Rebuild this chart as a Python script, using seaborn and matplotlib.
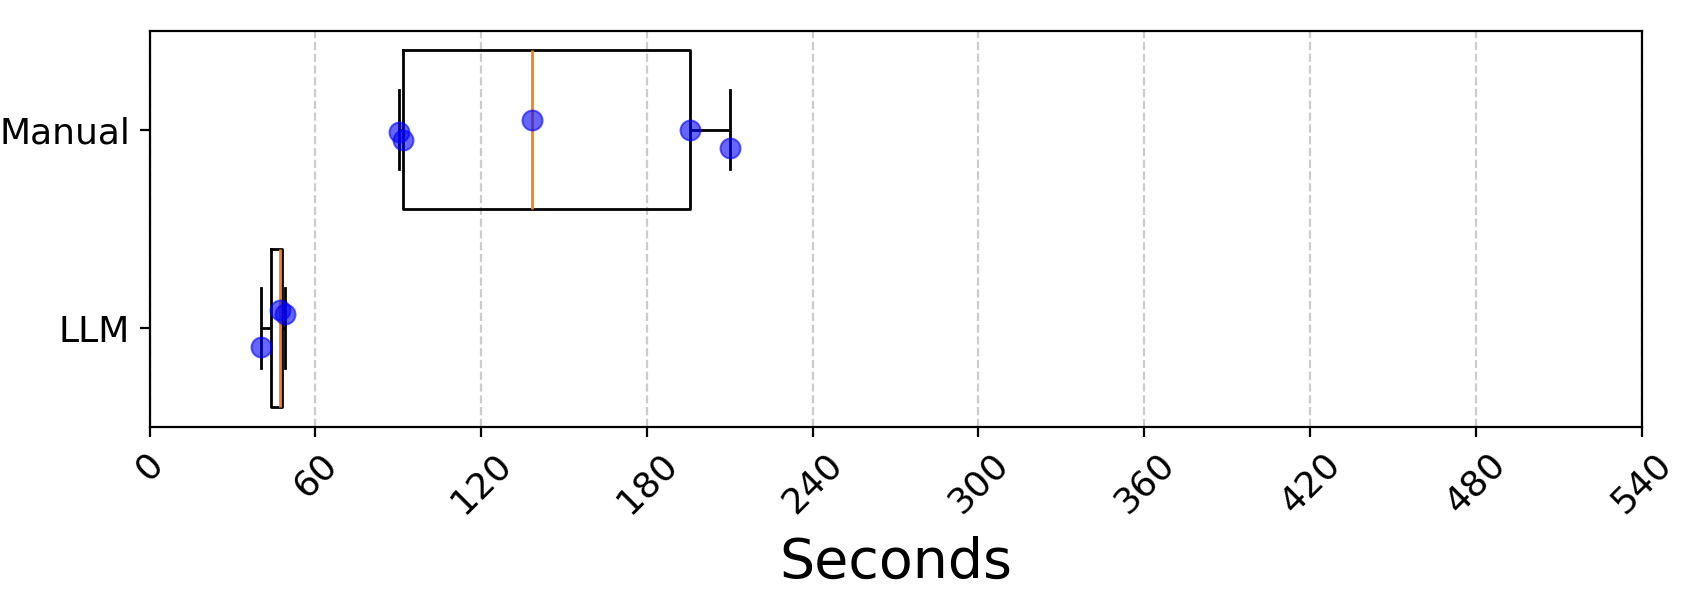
import numpy as np
import pandas as pd
import matplotlib
matplotlib.use("Agg")
import matplotlib.pyplot as plt
import seaborn as sns

categories = ["Manual", "LLM"]
manual_seconds = [90.4, 91.8, 138.3, 195.6, 210.2]
llm_seconds = [40.4, 47.3, 48.9]
xticks = list(range(0, 541, 60))

df = pd.DataFrame({
    "Method": ["Manual"] * len(manual_seconds) + ["LLM"] * len(llm_seconds),
    "Seconds": manual_seconds + llm_seconds,
})

plt.rcParams["font.family"] = ["DejaVu Sans"]
fig, ax = plt.subplots(figsize=(8.5, 3), dpi=200)
fig.subplots_adjust(left=0.088, right=0.9656, top=0.949, bottom=0.288)

ax.grid(axis="x", linestyle="--", color="gray", alpha=0.4, linewidth=0.8)
ax.set_axisbelow(True)

sns.boxplot(
    data=df, x="Seconds", y="Method", order=categories, orient="h",
    fill=False, color="black", linecolor="black", linewidth=1.0,
    width=0.8, whis=1.5, showfliers=False,
    medianprops={"color": "#ff7f0e", "linewidth": 1.0},
    capwidths=0.4, ax=ax,
)

np.random.seed(3)
sns.stripplot(
    data=df, x="Seconds", y="Method", order=categories, orient="h",
    color="blue", alpha=0.6, size=7.2, jitter=0.12,
    edgecolor="blue", linewidth=0.7, ax=ax, zorder=3,
)

ax.set_xlim(0, 540)
ax.set_ylim(1.5, -0.5)
ax.set_xticks(xticks)
ax.set_xticklabels([str(t) for t in xticks], rotation=45, fontsize=13)
ax.tick_params(axis="y", labelsize=13)
ax.set_xlabel("Seconds", fontsize=20, labelpad=6)
ax.set_ylabel("")
for s in ax.spines.values():
    s.set_visible(True)
    s.set_color("black")
    s.set_linewidth(0.8)

fig.savefig("out.png", dpi=200)
